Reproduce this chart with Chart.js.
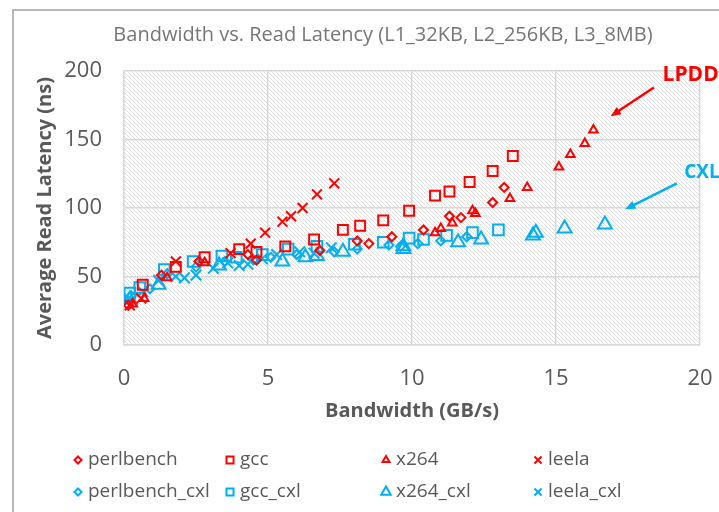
<!DOCTYPE html>
<html>
<head>
<meta charset="utf-8">
<script src="https://cdn.jsdelivr.net/npm/chart.js@4.4.0/dist/chart.umd.min.js"></script>
<style>
  html, body { margin: 0; padding: 0; background: #fff; }
</style>
</head>
<body>
<canvas id="chart-area" width="719" height="512"></canvas>
<script>
// values (bandwidth GB/s, latency ns)
var perlbenchX = [0.15, 1.3, 2.6, 4.3, 4.6, 6.8, 8.1, 8.5, 9.3, 10.4, 11.3, 11.7, 12.8, 13.2];
var perlbenchY = [29, 51, 61, 66, 62, 69, 76, 74, 79, 84, 94, 93, 104, 115];
var gccX = [0.65, 1.8, 2.8, 4.0, 4.6, 5.6, 6.6, 7.6, 8.2, 9.0, 9.9, 10.8, 11.3, 12.0, 12.8, 13.5];
var gccY = [44, 57, 64, 70, 68, 72, 77, 84, 87, 91, 98, 109, 112, 119, 127, 138];
var x264X = [0.3, 0.7, 1.5, 2.8, 10.8, 11.0, 11.4, 12.1, 12.2, 13.4, 14.0, 15.1, 15.5, 16.0, 16.3];
var x264Y = [30, 34, 49, 60, 82, 85, 89, 98, 96, 107, 115, 130, 139, 147, 157];
var leelaX = [0.2, 0.6, 1.8, 3.7, 4.4, 4.9, 5.5, 5.8, 6.2, 6.7, 7.3];
var leelaY = [29, 34, 61, 67, 74, 82, 90, 94, 100, 110, 118];

var perlbenchCxlX = [0.25, 0.9, 1.5, 2.5, 3.5, 4.5, 5.1, 6.0, 7.3, 8.1, 9.2, 9.6, 10.2, 11.0, 11.9];
var perlbenchCxlY = [36, 41, 52, 57, 61, 62, 64, 66, 68, 70, 73, 72, 74, 76, 79];
var gccCxlX = [0.2, 0.55, 1.4, 2.4, 3.4, 3.9, 4.8, 5.7, 6.7, 8.0, 9.0, 9.9, 10.4, 11.2, 12.1, 13.0];
var gccCxlY = [38, 42, 55, 61, 65, 64, 66, 70, 72, 73.5, 75, 78, 77, 80, 82, 84];
var x264CxlX = [0.2, 1.2, 3.3, 5.5, 6.3, 6.7, 7.6, 9.7, 9.7, 11.6, 12.4, 14.2, 14.3, 15.3, 16.7];
var x264CxlY = [33, 44, 58, 61, 64, 65, 68, 70, 72, 75, 77, 80, 82, 85, 88];
var leelaCxlX = [0.15, 0.66, 1.2, 1.8, 2.1, 2.5, 3.1, 3.6, 4.0, 4.3, 4.8, 5.3, 6.1, 6.6, 7.2];
var leelaCxlY = [34, 39, 47, 50, 49, 51, 56, 60, 58, 59, 63, 66, 68, 67, 71];

var xTicks = [0, 5, 10, 15, 20];
var yTicks = [0, 50, 100, 150, 200];

var chartTitle = 'Bandwidth vs. Read Latency (L1_32KB, L2_256KB, L3_8MB)';

var red = '#FF0000';
var blue = '#00B0F0';
var grey = '#595959';
var fontName = "'Open Sans', sans-serif";

function pairs(xs, ys) {
  var out = [];
  for (var i = 0; i < xs.length; i++) out.push({x: xs[i], y: ys[i]});
  return out;
}

function makeSet(label, xs, ys, style, color, r, legendR) {
  return {
    label: label,
    data: pairs(xs, ys),
    pointStyle: style,
    pointRadius: r,
    pointHoverRadius: r,
    pointBorderWidth: 2,
    pointBorderColor: color,
    pointBackgroundColor: 'rgba(0,0,0,0)',
    borderColor: color,
    showLine: false,
    legendR: legendR
  };
}

var datasets = [
  makeSet('perlbench', perlbenchX, perlbenchY, 'rectRot', red, 4.5, 3.5),
  makeSet('gcc', gccX, gccY, 'rect', red, 7, 5),
  makeSet('x264', x264X, x264Y, 'triangle', red, 5, 4),
  makeSet('leela', leelaX, leelaY, 'crossRot', red, 7, 5),
  makeSet('perlbench_cxl', perlbenchCxlX, perlbenchCxlY, 'rectRot', blue, 4.5, 3.5),
  makeSet('gcc_cxl', gccCxlX, gccCxlY, 'rect', blue, 7.5, 5),
  makeSet('x264_cxl', x264CxlX, x264CxlY, 'triangle', blue, 8, 5.5),
  makeSet('leela_cxl', leelaCxlX, leelaCxlY, 'crossRot', blue, 7.5, 5)
];

// hatched plot background
function hatch() {
  var c = document.createElement('canvas');
  c.width = 4; c.height = 4;
  var g = c.getContext('2d');
  g.fillStyle = '#ffffff';
  g.fillRect(0, 0, 4, 4);
  g.strokeStyle = '#dedede';
  g.lineWidth = 1;
  g.beginPath();
  g.moveTo(-1, -1); g.lineTo(5, 5);
  g.moveTo(-1, 3); g.lineTo(1, 5);
  g.moveTo(3, -1); g.lineTo(5, 1);
  g.stroke();
  return c;
}

var backPlugin = {
  id: 'back',
  beforeDraw: function(chart) {
    var ctx = chart.ctx, a = chart.chartArea;
    ctx.save();
    ctx.fillStyle = ctx.createPattern(hatch(), 'repeat');
    ctx.fillRect(a.left, a.top, a.right - a.left, a.bottom - a.top);
    // outer chart frame
    ctx.strokeStyle = '#a0a0a0';
    ctx.lineWidth = 1.5;
    ctx.beginPath();
    ctx.moveTo(13, 520);
    ctx.lineTo(13, 10);
    ctx.lineTo(730, 10);
    ctx.stroke();
    // title
    ctx.fillStyle = '#767676';
    ctx.font = '20px ' + fontName;
    ctx.textAlign = 'center';
    ctx.textBaseline = 'middle';
    ctx.fillText(chartTitle, 383, 35);
    ctx.restore();
  }
};

function arrow(ctx, x1, y1, x2, y2, color) {
  var ang = Math.atan2(y2 - y1, x2 - x1);
  var head = 11;
  ctx.strokeStyle = color;
  ctx.fillStyle = color;
  ctx.lineWidth = 2.5;
  ctx.beginPath();
  ctx.moveTo(x1, y1);
  ctx.lineTo(x2 - Math.cos(ang) * head * 0.8, y2 - Math.sin(ang) * head * 0.8);
  ctx.stroke();
  ctx.beginPath();
  ctx.moveTo(x2, y2);
  ctx.lineTo(x2 - head * Math.cos(ang - 0.4), y2 - head * Math.sin(ang - 0.4));
  ctx.lineTo(x2 - head * Math.cos(ang + 0.4), y2 - head * Math.sin(ang + 0.4));
  ctx.closePath();
  ctx.fill();
}

var notePlugin = {
  id: 'notes',
  afterDraw: function(chart) {
    var ctx = chart.ctx, sx = chart.scales.x, sy = chart.scales.y;
    ctx.save();
    arrow(ctx, sx.getPixelForValue(18.4), sy.getPixelForValue(188),
               sx.getPixelForValue(16.9), sy.getPixelForValue(167), red);
    arrow(ctx, sx.getPixelForValue(19.2), sy.getPixelForValue(118),
               sx.getPixelForValue(17.4), sy.getPixelForValue(99), blue);
    ctx.textBaseline = 'middle';
    ctx.textAlign = 'left';
    ctx.font = 'bold 21px ' + fontName;
    ctx.fillStyle = red;
    ctx.fillText('LPDDR', sx.getPixelForValue(18.7), sy.getPixelForValue(197));
    ctx.font = 'bold 19px ' + fontName;
    ctx.fillStyle = blue;
    ctx.fillText('CXL', sx.getPixelForValue(19.45), sy.getPixelForValue(125.5));

    // legend in four fixed columns
    var colX = [88, 240, 396, 548];
    var rowY = [460, 492];
    ctx.font = '19px ' + fontName;
    chart.data.datasets.forEach(function(ds, i) {
      var tx = colX[i % 4], ty = rowY[i < 4 ? 0 : 1];
      ctx.strokeStyle = ds.pointBorderColor;
      ctx.fillStyle = 'rgba(0,0,0,0)';
      ctx.lineWidth = 2;
      Chart.helpers.drawPoint(ctx, {
        pointStyle: ds.pointStyle, radius: ds.legendR, rotation: 0, borderWidth: 2
      }, tx - 10, ty);
      ctx.fillStyle = grey;
      ctx.fillText(ds.label, tx, ty);
    });
    ctx.restore();
  }
};

var config = {
  type: 'scatter',
  data: { datasets: datasets },
  options: {
    responsive: false,
    animation: false,
    layout: { padding: { left: 0, right: 0, top: 71, bottom: 87 } },
    plugins: {
      legend: { display: false },
      tooltip: { enabled: false },
      title: { display: false }
    },
    scales: {
      x: {
        type: 'linear', min: 0, max: 20,
        afterBuildTicks: function(s) { s.ticks = xTicks.map(function(v) { return {value: v}; }); },
        ticks: { color: grey, font: { family: fontName, size: 22 }, padding: 21 },
        grid: { color: '#d9d9d9', lineWidth: 1.5, drawTicks: false },
        border: { color: '#d9d9d9', width: 1.5 },
        title: {
          display: true, text: 'Bandwidth (GB/s)', color: grey,
          font: { family: fontName, size: 20, weight: 'bold' },
          padding: { top: 0, bottom: 2 }
        },
        afterFit: function(s) { s.height = 80; s.paddingLeft = 0; s.paddingRight = 19; }
      },
      y: {
        type: 'linear', min: 0, max: 200,
        afterBuildTicks: function(s) { s.ticks = yTicks.map(function(v) { return {value: v}; }); },
        ticks: { color: grey, font: { family: fontName, size: 22 }, padding: 22 },
        grid: { color: '#d9d9d9', lineWidth: 1.5, drawTicks: false },
        border: { color: '#d9d9d9', width: 1.5 },
        title: {
          display: true, text: 'Average Read Latency (ns)', color: grey,
          font: { family: fontName, size: 20, weight: 'bold' },
          padding: { top: 33, bottom: 0 }
        },
        afterFit: function(s) { s.width = 124; }
      }
    }
  },
  plugins: [backPlugin, notePlugin]
};

var ctx = document.getElementById('chart-area').getContext('2d');
window.myScatter = new Chart(ctx, config);
</script>
</body>
</html>
